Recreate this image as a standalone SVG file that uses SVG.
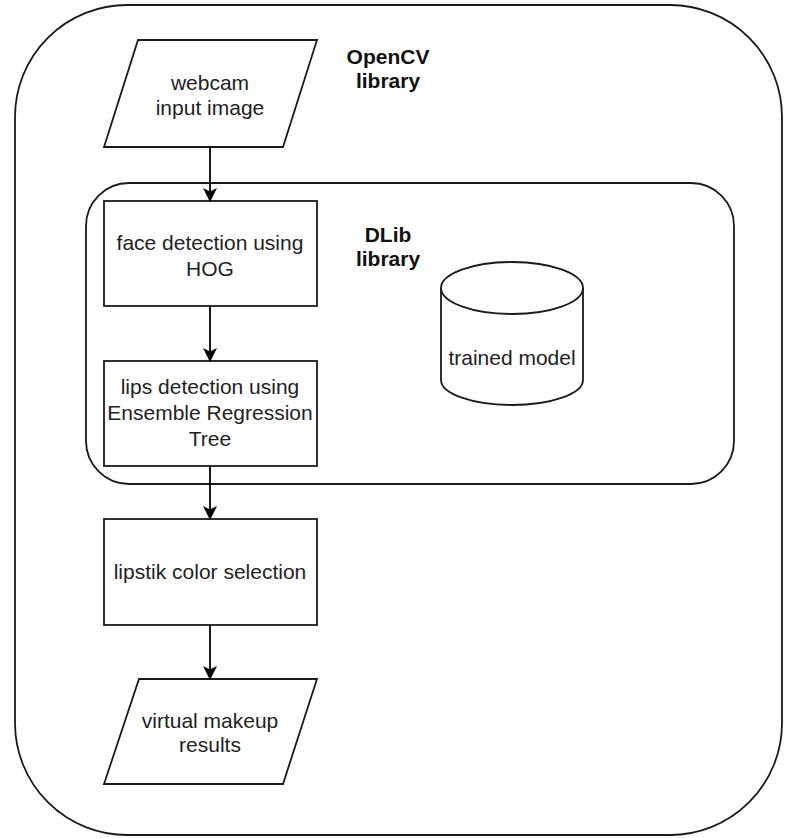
<svg xmlns="http://www.w3.org/2000/svg" width="785" height="838" viewBox="0 0 785 838">
<defs>
<style>
.shape{fill:#ffffff;stroke:#1a1a1a;stroke-width:1.8}
.cont{fill:none;stroke:#1a1a1a;stroke-width:1.8}
.t{font-family:"Liberation Sans",Arial,sans-serif;font-size:21px;fill:#222;text-anchor:middle}
.b{font-family:"Liberation Sans",Arial,sans-serif;font-size:21px;font-weight:bold;fill:#111;text-anchor:middle}
.edge{fill:none;stroke:#000;stroke-width:1.8}
</style>
<marker id="arr" viewBox="0 0 14 14" refX="13" refY="7" markerWidth="14" markerHeight="14" markerUnits="userSpaceOnUse" orient="auto">
<path d="M0,0 L14,7 L0,14 L3.5,7 Z" fill="#000"/>
</marker>
</defs>
<rect width="785" height="838" fill="#ffffff"/>
<g id="opencv">
<rect class="cont" x="15" y="5" width="767" height="830" rx="112" ry="112"/>
<text class="b" x="388" y="64">OpenCV</text>
<text class="b" x="388" y="88">library</text>
</g>
<g id="dlib">
<rect class="cont" x="86" y="183" width="648" height="301" rx="43" ry="43"/>
<text class="b" x="388" y="242">DLib</text>
<text class="b" x="388" y="266">library</text>
</g>
<g id="webcam">
<polygon class="shape" points="138,40 317,40 283,147 104,147"/>
<text class="t" x="210" y="90">webcam</text>
<text class="t" x="210" y="115">input image</text>
</g>
<g id="face">
<rect class="shape" x="104" y="201" width="213" height="105"/>
<text class="t" x="210" y="250">face detection using</text>
<text class="t" x="210" y="276">HOG</text>
</g>
<g id="lips">
<rect class="shape" x="104" y="361" width="213" height="105"/>
<text class="t" x="210" y="394">lips detection using</text>
<text class="t" x="210" y="420">Ensemble Regression</text>
<text class="t" x="210" y="446">Tree</text>
</g>
<g id="model">
<path class="shape" d="M441,288 A71,26 0 0 1 583,288 L583,380 A71,25 0 0 1 441,380 Z"/>
<path class="shape" style="fill:none" d="M441,288 A71,26 0 0 0 583,288"/>
<text class="t" x="512" y="365">trained model</text>
</g>
<g id="lipstik">
<rect class="shape" x="104" y="519" width="213" height="106"/>
<text class="t" x="210" y="579">lipstik color selection</text>
</g>
<g id="result">
<polygon class="shape" points="139,679 317,679 283,784 104,784"/>
<text class="t" x="210" y="728">virtual makeup</text>
<text class="t" x="210" y="752">results</text>
</g>
<g id="connectors">
<line class="edge" x1="210" y1="147" x2="210" y2="201" marker-end="url(#arr)"/>
<line class="edge" x1="210" y1="306" x2="210" y2="361" marker-end="url(#arr)"/>
<line class="edge" x1="210" y1="466" x2="210" y2="519" marker-end="url(#arr)"/>
<line class="edge" x1="210" y1="625" x2="210" y2="679" marker-end="url(#arr)"/>
</g>
</svg>
